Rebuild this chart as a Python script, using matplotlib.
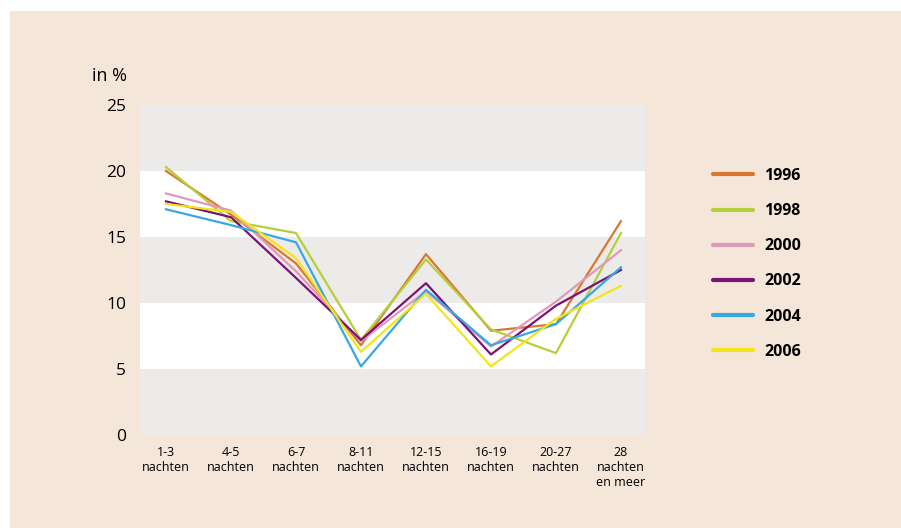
import matplotlib.pyplot as plt
from matplotlib.patches import Rectangle

# categories (nights) and share per year, in %
categories = ["1-3\nnachten", "4-5\nnachten", "6-7\nnachten", "8-11\nnachten",
              "12-15\nnachten", "16-19\nnachten", "20-27\nnachten", "28\nnachten\nen meer"]
years = ["1996", "1998", "2000", "2002", "2004", "2006"]

y1996 = [20.0, 16.7, 13.0, 6.8, 13.7, 7.9, 8.4, 16.2]
y1998 = [20.3, 16.2, 15.3, 7.2, 13.3, 8.0, 6.2, 15.3]
y2000 = [18.3, 17.0, 12.4, 7.1, 10.9, 6.7, 10.1, 14.0]
y2002 = [17.7, 16.5, 11.9, 7.2, 11.5, 6.1, 9.8, 12.5]
y2004 = [17.1, 15.9, 14.6, 5.2, 11.0, 6.8, 8.4, 12.7]
y2006 = [17.5, 16.9, 13.4, 6.3, 10.7, 5.2, 8.8, 11.3]

series = [y1996, y1998, y2000, y2002, y2004, y2006]
colors = ["#d9772f", "#b5cf3a", "#e09ab9", "#7b1377", "#3aa8e0", "#f2e51a"]

plt.rcParams['font.family'] = ['Open Sans', 'DejaVu Sans']

fig = plt.figure(figsize=(9.01, 5.28), dpi=100)
fig.patch.set_facecolor("white")
# beige panel behind everything
fig.patches.append(Rectangle((10 / 901, 0), 1, 1 - 11 / 528, transform=fig.transFigure,
                             facecolor="#f5e6da", edgecolor="none", zorder=-10))

ax = fig.add_axes([140 / 901, 1 - 435 / 528, 505 / 901, 330 / 528])
ax.set_facecolor("white")

# alternating horizontal bands
for lo in range(0, 25, 10):
    ax.axhspan(lo, lo + 5, color="#edebe9", lw=0, zorder=0)

x = list(range(len(categories)))
for vals, yr, c in zip(series, years, colors):
    ax.plot(x, vals, color=c, lw=1.6, label=yr, zorder=2)

ax.set_xlim(-0.4, 7.37)
ax.set_ylim(0, 25)
ax.set_yticks([0, 5, 10, 15, 20, 25])
ax.set_xticks(x)
ax.set_xticklabels(categories, fontsize=9, linespacing=1.2)
ax.tick_params(axis="y", length=0, labelsize=12.5, pad=10)
ax.tick_params(axis="x", length=0, pad=8)
for s in ax.spines.values():
    s.set_visible(False)

fig.text(127 / 901, 1 - 76 / 528, "in %", fontsize=13, ha="right", va="center")

leg = fig.legend(loc="upper left", bbox_to_anchor=(705 / 901, 1 - 160 / 528),
                 frameon=False, borderpad=0, handlelength=2.5, handletextpad=0.7,
                 labelspacing=1.2, prop={"weight": "bold", "size": 11.5})
for line in leg.get_lines():
    line.set_linewidth(3)
    line.set_solid_capstyle("round")

fig.savefig("out.png", dpi=100)
